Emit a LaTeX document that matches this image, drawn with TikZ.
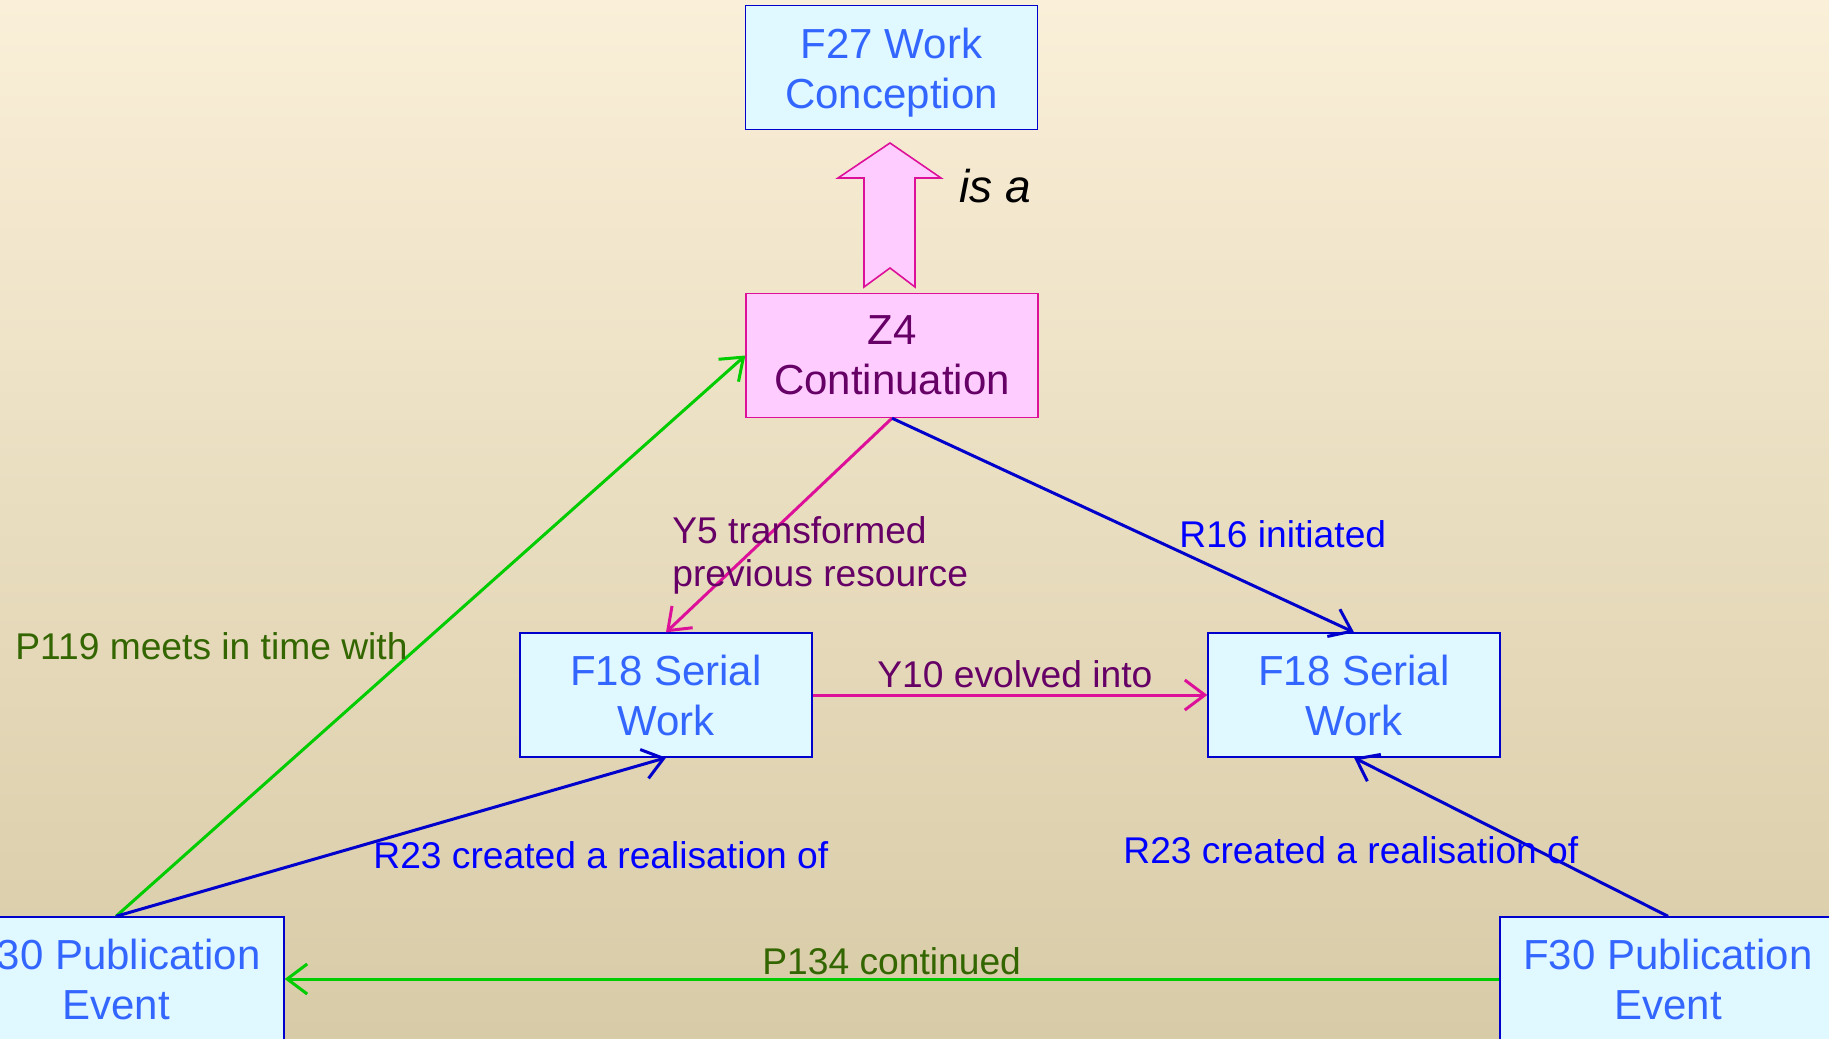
\documentclass[tikz,border=0pt]{standalone}
\usepackage{fontspec}
\setmainfont{Liberation Sans}
\usetikzlibrary{arrows.meta}
\definecolor{bgtop}{RGB}{250,239,216}
\definecolor{bgbot}{RGB}{216,203,167}
\definecolor{boxfill}{RGB}{224,248,255}
\definecolor{boxline}{RGB}{0,0,204}
\definecolor{boxtext}{RGB}{51,102,255}
\definecolor{tempfill}{RGB}{255,204,255}
\definecolor{templine}{RGB}{221,17,153}
\definecolor{temptext}{RGB}{102,0,102}
\definecolor{reltext}{RGB}{0,0,255}
\definecolor{pgreen}{RGB}{0,204,0}
\definecolor{ptext}{RGB}{51,102,0}

\begin{document}
\begin{tikzpicture}[x=0.5pt,y=-0.5pt,
  cls/.style={draw=boxline,fill=boxfill,line width=0.7pt,text=boxtext,align=center,
    inner sep=0pt,minimum width=146pt,minimum height=62pt,font=\fontsize{21}{25}\selectfont},
  evt/.style={cls,minimum width=168pt},
  tmp/.style={cls,draw=templine,fill=tempfill,text=temptext},
  lbl/.style={inner sep=0pt,anchor=base west,align=left,font=\fontsize{18.6}{21.5}\selectfont},
  rel/.style={line width=1.5pt,-{Straight Barb[length=10pt,width=15pt]}}]
\useasboundingbox (0,0) rectangle (1829,1038);
\clip (0,0) rectangle (1829,1038);
\shade[top color=bgtop,bottom color=bgbot] (0,0) rectangle (1829,1038);

% classes
\node[cls] (work) at (891.5,67.5) {\rule{0pt}{20pt}F27 Work\\Conception};
\node[tmp] (cont) at (892,355.5) {Z4\\Continuation};
\node[cls] (serA) at (666,695) {F18 Serial\\Work};
\node[cls] (serB) at (1354,695) {F18 Serial\\Work};
\node[evt] (pubA) at (116,979) {F30 Publication\\Event};
\node[evt] (pubB) at (1668,979) {F30 Publication\\Event};

% is a
\draw[templine,fill=tempfill,line width=0.8pt] (890,143) -- (941,178) -- (915,178) -- (915,287)
  -- (890,268) -- (864,287) -- (864,178) -- (838,178) -- cycle;
\node[inner sep=0pt,anchor=base west,font=\fontsize{23}{27}\selectfont\itshape] (isa) at (959,202) {is a};

% properties
\draw[rel,templine] (cont.south) -- (serA.north);
\draw[rel,boxline] (cont.south) -- (serB.north);
\draw[rel,templine] (serA.east) -- (serB.west);
\draw[rel,pgreen] (pubA.north) -- (cont.west);
\draw[rel,boxline] (pubA.north) -- (serA.south);
\draw[rel,boxline] (pubB.north) -- (serB.south);
\draw[rel,pgreen] (pubB.west) -- (pubA.east);

\node[lbl,text=temptext] (y5) at (672,586) {Y5 transformed\\previous resource};
\node[lbl,text=reltext] (r16) at (1179,547) {R16 initiated};
\node[lbl,text=temptext] (y10) at (877,687) {Y10 evolved into};
\node[lbl,text=ptext] (p119) at (15,659) {P119 meets in time with};
\node[lbl,text=reltext] (r23a) at (373,868) {R23 created a realisation of};
\node[lbl,text=reltext] (r23b) at (1123,863) {R23 created a realisation of};
\node[lbl,text=ptext] (p134) at (762,974) {P134 continued};
\end{tikzpicture}
\end{document}
